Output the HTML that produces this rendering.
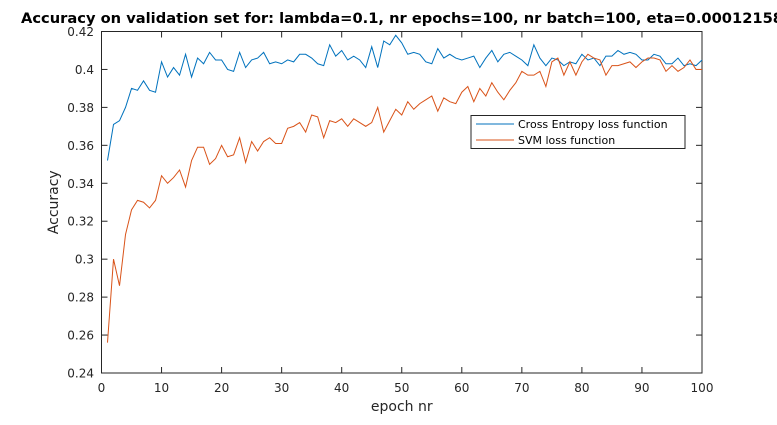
<!DOCTYPE html>
<html><head><meta charset="utf-8"><style>
body{margin:0;background:#fff;width:777px;height:420px;overflow:hidden}
svg{font-family:"DejaVu Sans","Liberation Sans",sans-serif}
</style></head><body>
<svg id="chart" width="777" height="420" viewBox="0 0 777 420" xmlns="http://www.w3.org/2000/svg">
<rect x="0" y="0" width="777" height="420" fill="#fff"/>
<text x="21" y="23" font-size="14.5" font-weight="bold" fill="#000" textLength="762" lengthAdjust="spacingAndGlyphs">Accuracy on validation set for: lambda=0.1, nr epochs=100, nr batch=100, eta=0.00012158</text>
<g id="axes"></g>
<g id="series"></g>
<g id="legend">
<rect x="471" y="115.5" width="214" height="33" fill="#fff" stroke="#262626" stroke-width="1"/>
<line x1="476" y1="124" x2="514" y2="124" stroke="#0072BD" stroke-width="1"/>
<text x="518" y="128" font-size="11" fill="#000">Cross Entropy loss function</text>
<line x1="476" y1="140" x2="514" y2="140" stroke="#D95319" stroke-width="1"/>
<text x="518" y="144" font-size="11" fill="#000">SVM loss function</text>
</g>
</svg>
<script>
const xTicks=[0,10,20,30,40,50,60,70,80,90,100];
const yTicks=[0.24,0.26,0.28,0.3,0.32,0.34,0.36,0.38,0.4,0.42];
const yTickLabels=["0.24","0.26","0.28","0.3","0.32","0.34","0.36","0.38","0.4","0.42"];
const ceValues=[0.352,0.371,0.373,0.380,0.390,0.389,0.394,0.389,0.388,0.404,0.396,0.401,0.397,0.408,0.396,0.406,0.403,0.409,0.405,0.405,0.400,0.399,0.409,0.401,0.405,0.406,0.409,0.403,0.404,0.403,0.405,0.404,0.408,0.408,0.406,0.403,0.402,0.413,0.407,0.410,0.405,0.407,0.405,0.401,0.412,0.401,0.415,0.413,0.418,0.414,0.408,0.409,0.408,0.404,0.403,0.411,0.406,0.408,0.406,0.405,0.406,0.407,0.401,0.406,0.410,0.404,0.408,0.409,0.407,0.405,0.402,0.413,0.406,0.402,0.406,0.405,0.402,0.404,0.403,0.408,0.405,0.406,0.402,0.407,0.407,0.410,0.408,0.409,0.408,0.405,0.405,0.408,0.407,0.403,0.403,0.406,0.402,0.403,0.402,0.405];
const svmValues=[0.256,0.300,0.286,0.313,0.326,0.331,0.330,0.327,0.331,0.344,0.340,0.343,0.347,0.338,0.352,0.359,0.359,0.350,0.353,0.360,0.354,0.355,0.364,0.351,0.362,0.357,0.362,0.364,0.361,0.361,0.369,0.370,0.372,0.367,0.376,0.375,0.364,0.373,0.372,0.374,0.370,0.374,0.372,0.370,0.372,0.380,0.367,0.373,0.379,0.376,0.383,0.379,0.382,0.384,0.386,0.378,0.385,0.383,0.382,0.388,0.391,0.383,0.390,0.386,0.393,0.388,0.384,0.389,0.393,0.399,0.397,0.397,0.399,0.391,0.404,0.406,0.397,0.404,0.397,0.404,0.408,0.406,0.405,0.397,0.402,0.402,0.403,0.404,0.401,0.404,0.406,0.406,0.405,0.399,0.402,0.399,0.401,0.405,0.400,0.400];
const NS="http://www.w3.org/2000/svg";
const L=101.5,R=702,T=31.5,B=373;
const xs=v=>L+(v-0)/(100-0)*(R-L);
const ys=v=>B-(v-0.24)/(0.42-0.24)*(B-T);
function mk(tag,attrs,parent){const e=document.createElementNS(NS,tag);for(const k in attrs)e.setAttribute(k,attrs[k]);parent.appendChild(e);return e;}
const axes=document.getElementById('axes');
const box=mk('rect',{x:L,y:T,width:R-L,height:B-T,fill:'none',stroke:'#262626','stroke-width':1},axes);


xTicks.forEach(t=>{const x=xs(t);
mk('line',{x1:x,y1:B,x2:x,y2:B-6,stroke:'#262626'},axes);
mk('line',{x1:x,y1:T,x2:x,y2:T+6,stroke:'#262626'},axes);
const tx=mk('text',{x:x,y:B+19,'font-size':12,'text-anchor':'middle',fill:'#262626'},axes);tx.textContent=t;

});
yTicks.forEach((t,i)=>{const y=ys(t);
mk('line',{x1:L,y1:y,x2:L+6,y2:y,stroke:'#262626'},axes);
mk('line',{x1:R,y1:y,x2:R-6,y2:y,stroke:'#262626'},axes);
const tx=mk('text',{x:L-7.5,y:y+4.5,'font-size':12,'text-anchor':'end',fill:'#262626'},axes);tx.textContent=yTickLabels[i];

});
const xt=mk('text',{x:(L+R)/2,y:411,'font-size':14,'text-anchor':'middle',fill:'#262626'},axes);xt.textContent='epoch nr';


const yt=mk('text',{x:0,y:0,'font-size':14,'text-anchor':'middle',fill:'#262626',transform:`translate(58,${(T+B)/2}) rotate(-90)`},axes);yt.textContent='Accuracy';


const ser=document.getElementById('series');
function line(vals,color,name){const p=vals.map((v,i)=>(i?'L':'M')+xs(i+1).toFixed(2)+','+ys(v).toFixed(2)).join('');
const e=mk('path',{d:p,fill:'none',stroke:color,'stroke-width':1},ser);

}
line(ceValues,'#0072BD','cross-entropy-line');
line(svmValues,'#D95319','svm-line');
</script>
</body></html>
